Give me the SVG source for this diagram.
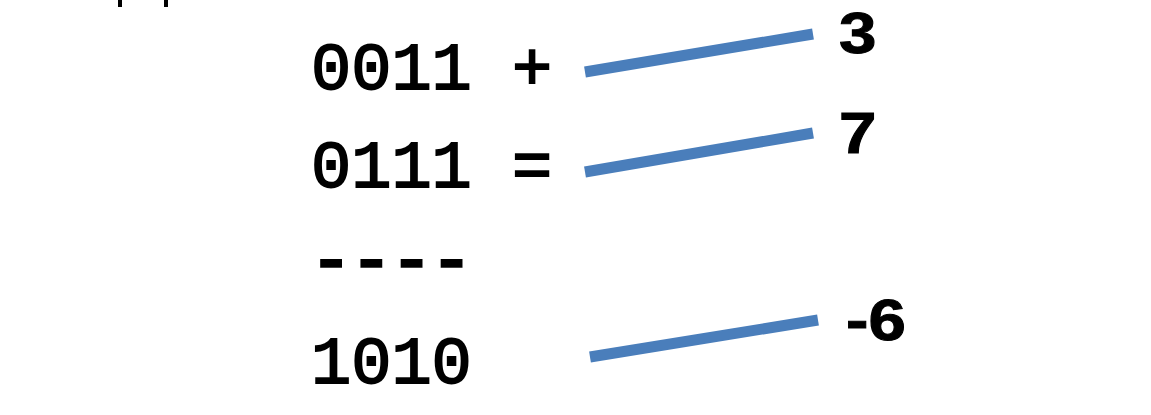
<svg xmlns="http://www.w3.org/2000/svg" width="1151" height="415" viewBox="0 0 1151 415">
<style>
.mono{font-family:"Liberation Mono","DejaVu Sans Mono",monospace;font-weight:normal;font-size:67px;fill:#000;stroke:#000;stroke-width:1.8px}
.dash{stroke-width:3.5px}
.lab{font-family:"Liberation Sans",Arial,sans-serif;font-weight:bold;font-size:57px;fill:#000;stroke:#000;stroke-width:1px}
.conn line{stroke:#4a7ebb;stroke-width:11;stroke-linecap:butt}
</style>
<rect width="1151" height="415" fill="#fff"/>
<g id="topmarks">
<rect x="118" y="0" width="4" height="7" fill="#000"/>
<rect x="164" y="0" width="4" height="7" fill="#000"/>
</g>
<g id="row1"><text class="mono" x="311" y="89" xml:space="preserve">0011 +</text></g>
<g id="row2"><text class="mono" x="311" y="187" xml:space="preserve">0111 =</text></g>
<g id="row3"><text class="mono dash" x="311" y="281">----</text></g>
<g id="row4"><text class="mono" x="311" y="383">1010</text></g>
<g id="label3" transform="translate(839,53) scale(1.18,1)"><text class="lab" x="0" y="0">3</text></g>
<g id="label7" transform="translate(839,153) scale(1.18,1)"><text class="lab" x="0" y="0">7</text></g>
<g id="label-6" transform="translate(846,340) scale(1.18,1)"><text class="lab" x="0" y="0">-6</text></g>
<g class="conn" id="connectors">
<line x1="585" y1="72" x2="813" y2="34"/>
<line x1="585" y1="172" x2="813" y2="133"/>
<line x1="590" y1="357" x2="818" y2="320"/>
</g>
</svg>
